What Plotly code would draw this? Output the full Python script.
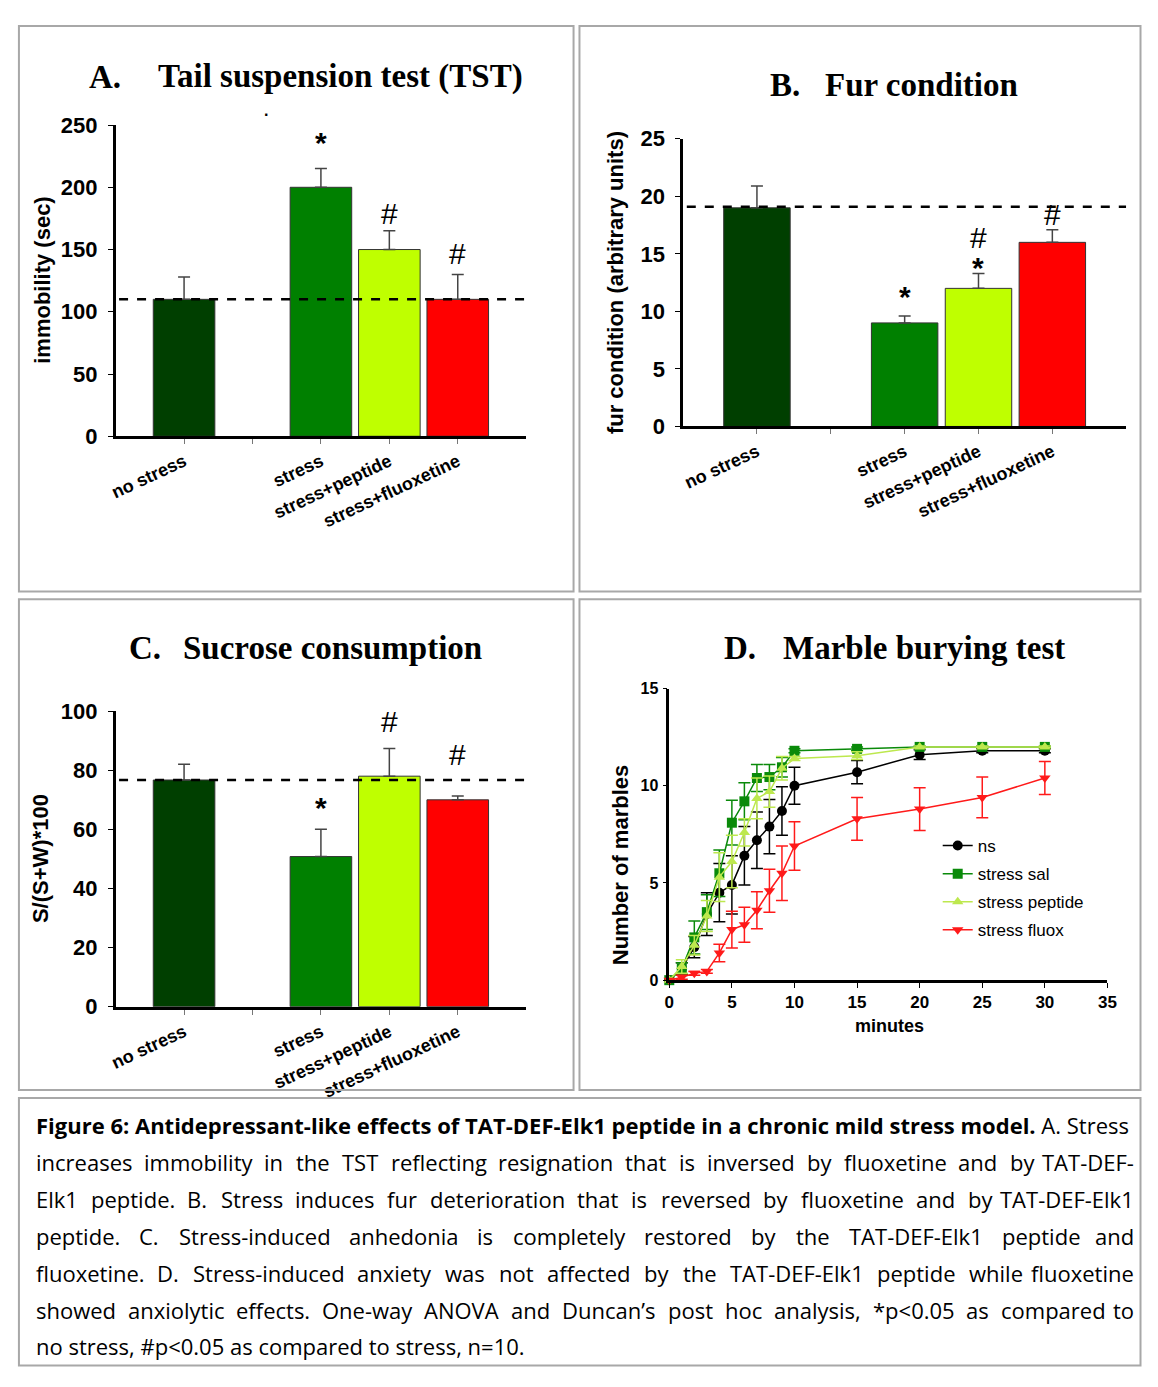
import plotly.graph_objects as go

# page is 1158x1387; the body keeps its default 8px margin, so the figure is 16px smaller
PAGE_W, PAGE_H, PAD = 1158, 1387, 8
W, H = PAGE_W - 2 * PAD, PAGE_H - 2 * PAD

# ---- data ----
groups = ["no stress", "stress", "stress+peptide", "stress+fluoxetine"]
bar_colors = ["#003f00", "#008000", "#bfff00", "#ff0000"]

tst_mean = [110, 200, 150, 110]
tst_err = [18, 15, 15, 20]
tst_base = 110
tst_sig = [("stress", "*", 236), ("stress+peptide", "#", 179), ("stress+fluoxetine", "#", 147)]

fur_mean = [19.0, 9.0, 12.0, 16.0]
fur_err = [1.9, 0.6, 1.3, 1.1]
fur_base = 19.1
fur_sig = [("stress", "*", 11.3), ("stress+peptide", "*", 13.8), ("stress+peptide", "#", 16.4),
           ("stress+fluoxetine", "#", 18.4)]

suc_mean = [76.7, 50.8, 78.0, 70.0]
suc_err = [5.3, 9.2, 9.4, 1.3]
suc_base = 76.7
suc_sig = [("stress", "*", 67.5), ("stress+peptide", "#", 96.5), ("stress+fluoxetine", "#", 85.5)]

minutes = [0, 1, 2, 3, 4, 5, 6, 7, 8, 9, 10, 15, 20, 25, 30]
ns = [0, 0.6, 1.7, 3.4, 4.5, 4.9, 6.4, 7.2, 7.9, 8.7, 10.0, 10.7, 11.6, 11.8, 11.8]
ns_err = [0, 0.3, 0.55, 1.1, 1.5, 1.5, 1.5, 1.45, 1.4, 1.25, 0.95, 0.6, 0.25, 0.1, 0.1]
sal = [0, 0.6, 2.2, 3.5, 5.5, 8.1, 9.2, 10.4, 10.45, 10.95, 11.8, 11.9, 12.0, 12.0, 12.0]
sal_err = [0, 0.3, 0.85, 0.9, 1.2, 1.15, 0.95, 0.7, 0.65, 0.5, 0.1, 0.1, 0.05, 0.05, 0.05]
pep = [0, 0.7, 1.8, 3.3, 5.3, 6.1, 7.6, 9.35, 9.7, 10.9, 11.4, 11.55, 12.0, 12.0, 12.0]
pep_err = [0, 0.35, 0.5, 0.8, 1.25, 1.35, 0.7, 1.05, 0.8, 0.6, 0.1, 0.2, 0.05, 0.05, 0.05]
flx = [0, 0.15, 0.35, 0.45, 1.4, 2.6, 2.85, 3.6, 4.6, 5.5, 6.9, 8.3, 8.8, 9.4, 10.4]
flx_err = [0, 0.1, 0.1, 0.1, 0.45, 0.95, 0.9, 0.95, 1.1, 1.4, 1.25, 1.1, 1.1, 1.05, 0.85]

caption_lines = [
    "<b>Figure 6: Antidepressant-like effects of TAT-DEF-Elk1 peptide in a chronic mild stress model.</b> A. Stress",
    "increases immobility in the TST reflecting resignation that is inversed by fluoxetine and by TAT-DEF-",
    "Elk1 peptide. B. Stress induces fur deterioration that is reversed by fluoxetine and by TAT-DEF-Elk1",
    "peptide. C. Stress-induced anhedonia is completely restored by the TAT-DEF-Elk1 peptide and",
    "fluoxetine. D. Stress-induced anxiety was not affected by the TAT-DEF-Elk1 peptide while fluoxetine",
    "showed anxiolytic effects. One-way ANOVA and Duncan\u2019s post hoc analysis, *p<0.05 as compared to",
    "no stress, #p<0.05 as compared to stress, n=10.",
]

# ---- helpers ----
SANS = "Liberation Sans"
SERIF = "Liberation Serif"
CAP_FONT = "Open Sans"
CAP_SIZE = 22

# rough Open Sans advance widths (em), used to spread words for the justified caption
OS_W = dict(zip("abcdefghijklmnopqrstuvwxyz",
                [.556, .613, .476, .613, .561, .339, .548, .614, .253, .253, .525, .253, .930,
                 .614, .604, .613, .613, .408, .477, .353, .614, .501, .778, .524, .502, .477]))
OS_W.update(dict(zip("ABCDEFGHIKLMNOPSTVW",
                     [.633, .648, .631, .729, .556, .516, .728, .738, .279, .614, .524, .903, .783,
                      .779, .611, .549, .558, .600, .921])))
OS_W.update({c: .572 for c in "0123456789<="})
OS_W.update({".": .266, ",": .245, "-": .322, "(": .29, ")": .29, "*": .552, "#": .646,
             "\u2019": .193, ":": .266, "/": .367})


def text_w(s):
    return sum(OS_W.get(c, .55) for c in s) * CAP_SIZE


def px(x):
    # page pixel -> paper fraction
    return min(max(x - PAD, 0.5), W - 0.5) / W


def py(y):
    return 1 - min(max(y - PAD, 0.5), H - 0.5) / H


def note(x, y, text, font, **kw):
    d = dict(xref="paper", yref="paper", x=px(x), y=py(y), text=text, showarrow=False,
             xanchor="center", yanchor="middle", font=font)
    d.update(kw)
    return d


# bar positions leave an empty slot between "no stress" and the stressed groups
xpos = [0] + [i + 1 for i in range(1, len(groups))]
pos_of = dict(zip(groups, xpos))

fig = go.Figure()
annotations = []
shapes = []

bar_panels = [
    ("", tst_mean, tst_err, tst_base, tst_sig, [0, 250], 50, (111, 527, 115, 432)),
    ("2", fur_mean, fur_err, fur_base, fur_sig, [0, 25], 5, (686, 1135, 129, 422)),
    ("3", suc_mean, suc_err, suc_base, suc_sig, [0, 100], 20, (111, 527, 712, 1013)),
]

for ax, mean, err, base, sig, yr, dt, (x0, x1, y0, y1) in bar_panels:
    fig.add_trace(go.Bar(
        x=xpos, y=mean, width=0.9,
        marker=dict(color=bar_colors, line=dict(color="#333333", width=1)),
        error_y=dict(type="data", array=err, arrayminus=[0] * len(err), symmetric=False,
                     color="#444444", thickness=1.5, width=6),
        xaxis="x" + ax, yaxis="y" + ax, showlegend=False,
    ))
    fig.update_layout(**{
        "xaxis" + ax: dict(domain=[px(x0), px(x1)], range=[-1, 5], anchor="y" + ax,
                           tickvals=list(range(5)),
                           ticktext=[groups[0], ""] + groups[1:],
                           tickangle=-25, ticks="outside", ticklen=5, tickcolor="#777777",
                           showline=True, linecolor="black", linewidth=3, showgrid=False,
                           zeroline=False,
                           tickfont=dict(family=SANS, size=18, color="black", weight="bold")),
        "yaxis" + ax: dict(domain=[py(y1), py(y0)], range=yr, anchor="x" + ax, dtick=dt,
                           ticks="outside", ticklen=5, tickcolor="black", showline=True,
                           linecolor="black", linewidth=2.5, showgrid=False, zeroline=False,
                           ticklabelstandoff=6,
                           tickfont=dict(family=SANS, size=22, color="black", weight="bold")),
    })
    shapes.append(dict(type="line", xref="x" + ax, yref="y" + ax, x0=-0.95, x1=5, y0=base, y1=base,
                       line=dict(color="black", width=2.5, dash="dash")))
    for g, s, yv in sig:
        f = dict(family=SANS, size=30, color="black", weight="bold" if s == "*" else "normal")
        annotations.append(dict(xref="x" + ax, yref="y" + ax, x=pos_of[g], y=yv, text=s,
                                showarrow=False, xanchor="center", yanchor="middle", font=f))

# ---- marble burying ----
series = [
    ("ns", ns, ns_err, "black", "circle"),
    ("stress sal", sal, sal_err, "#0a8a0a", "square"),
    ("stress peptide", pep, pep_err, "#bde84e", "triangle-up"),
    ("stress fluox", flx, flx_err, "#ff1a1a", "triangle-down"),
]
for name, yv, ev, col, sym in series:
    fig.add_trace(go.Scatter(
        x=minutes, y=yv, name=name, legendgroup=name, mode="lines+markers", cliponaxis=False,
        line=dict(color=col, width=1.5), marker=dict(symbol=sym, size=10, color=col),
        error_y=dict(type="data", array=ev, color=col, thickness=1.5, width=6),
        xaxis="x4", yaxis="y4",
    ))

fig.update_layout(
    xaxis4=dict(domain=[px(672), px(1116)], range=[0, 35], dtick=5, anchor="y4",
                ticks="outside", ticklen=5, tickcolor="black", showline=True, linecolor="black",
                linewidth=2.5, showgrid=False, zeroline=False,
                tickfont=dict(family=SANS, size=17, color="black", weight="bold")),
    yaxis4=dict(domain=[py(986), py(689)], range=[0, 15], dtick=5, anchor="x4",
                ticks="outside", ticklen=4, tickcolor="black", showline=True, linecolor="black",
                linewidth=2.5, showgrid=False, zeroline=False, ticklabelstandoff=1,
                tickfont=dict(family=SANS, size=16, color="black", weight="bold")),
)

# ---- titles ----
title_font = dict(family=SERIF, size=33, color="black", weight="bold")
for x, y, t in [(82, 66, "A."), (152, 66, "Tail suspension test (TST)"),
                (772, 74, "B."), (828, 74, "Fur condition"),
                (122, 648, "C."), (177, 648, "Sucrose consumption"),
                (725, 648, "D."), (785, 648, "Marble burying test")]:
    annotations.append(note(x, y, t, title_font, xanchor="left"))

lab_font = dict(family=SANS, size=22, color="black", weight="bold")
for x, y, t in [(37, 273, "immobility (sec)"), (617, 276, "fur condition (arbitrary units)"),
                (35, 862, "S/(S+W)*100"), (622, 868, "Number of marbles")]:
    annotations.append(note(x, y, t, lab_font, textangle=-90))
annotations.append(note(895, 1033, "minutes", dict(family=SANS, size=18, color="black", weight="bold")))
annotations.append(note(263, 100, ".", dict(family=SANS, size=16, color="black", weight="bold")))

# ---- caption (justified between x=28 and x=1145, last line ragged) ----
cap_font = dict(family=CAP_FONT, size=CAP_SIZE, color="black")
CAP_L, CAP_R = 28, 1145
for i, line in enumerate(caption_lines):
    y = 1134 + i * 37.5
    if i == 0 or i == len(caption_lines) - 1:
        annotations.append(note(CAP_L, y, line, cap_font, xanchor="left"))
        continue
    words = line.split(" ")
    widths = [text_w(w) for w in words]
    gap = (CAP_R - CAP_L - sum(widths)) / (len(words) - 1)
    x = CAP_L
    for j, w in enumerate(words):
        if j == len(words) - 1:
            annotations.append(note(CAP_R, y, w, cap_font, xanchor="right"))
        else:
            annotations.append(note(x, y, w, cap_font, xanchor="left"))
        x += widths[j] + gap

# ---- panel frames ----
dark = "#a8a8a8"
R, B = PAGE_W, PAGE_H
for x0, x1, y0, y1 in [(13, 575, 14, 590), (581, R, 14, 590), (13, 575, 598, 1098),
                       (581, R, 598, 1098), (13, R, 1106, B)]:
    shapes.append(dict(type="rect", xref="paper", yref="paper", x0=px(x0), x1=px(x1), y0=py(y1), y1=py(y0),
                       line=dict(color=dark, width=2)))

fig.update_layout(
    width=W, height=H, margin=dict(l=0, r=0, t=0, b=0),
    paper_bgcolor="white", plot_bgcolor="white",
    shapes=shapes, annotations=annotations,
    legend=dict(x=px(944), y=py(831), xanchor="left", yanchor="top", bgcolor="rgba(0,0,0,0)",
                font=dict(family=SANS, size=17, color="black"), tracegroupgap=3),
)

fig.write_html("out.html", config={"displayModeBar": False})
